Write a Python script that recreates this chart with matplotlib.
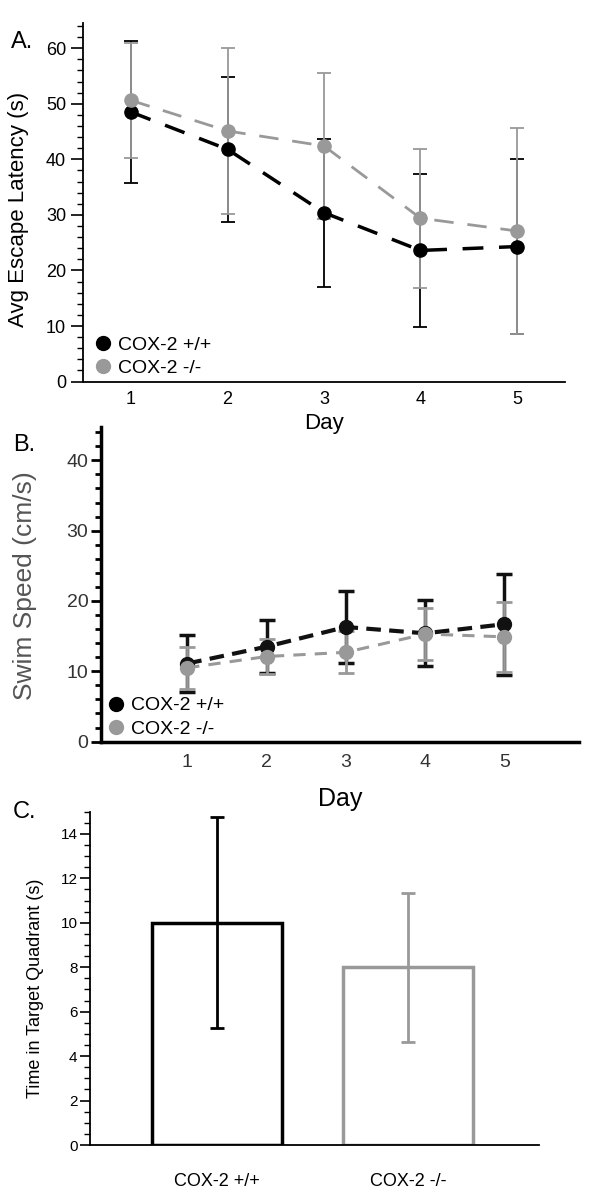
import numpy as np
import matplotlib
matplotlib.use('Agg')
import matplotlib.pyplot as plt
from matplotlib.lines import Line2D
from matplotlib.ticker import MultipleLocator

plt.rcParams['font.family'] = ['Liberation Sans', 'DejaVu Sans']

# data
days = [1, 2, 3, 4, 5]
lat_wt = [48.5, 41.8, 30.4, 23.6, 24.3]
lat_wt_err = [12.7, 13.0, 13.3, 13.8, 15.7]
lat_ko = [50.6, 45.1, 42.4, 29.4, 27.1]
lat_ko_err = [10.4, 14.9, 13.1, 12.5, 18.5]

spd_wt = [11.1, 13.5, 16.3, 15.4, 16.7]
spd_wt_err = [4.0, 3.8, 5.1, 4.7, 7.2]
spd_ko = [10.5, 12.1, 12.7, 15.3, 14.9]
spd_ko_err = [3.0, 2.5, 3.0, 3.7, 5.0]

groups = ['COX-2 +/+', 'COX-2 -/-']
quad = [10.0, 8.0]
quad_err = [4.75, 3.35]

GRAY = '#999999'

fig = plt.figure(figsize=(6, 12), dpi=100)

# (A) escape latency
axA = fig.add_axes([0.138, 0.682, 0.804, 0.2987])
axA.patch.set_visible(False)
axA.errorbar(days, lat_wt, yerr=lat_wt_err, color='black', marker='o', ms=9.5,
             lw=2.5, dashes=(6, 4.5), elinewidth=1.3, capsize=5, capthick=1.3)
axA.errorbar(days, lat_ko, yerr=lat_ko_err, color=GRAY, marker='o', ms=9.5,
             lw=2, dashes=(7, 5), elinewidth=1.3, capsize=5, capthick=1.3)
axA.set_xlim(0.5, 5.5)
axA.set_ylim(0, 64.5)
axA.yaxis.set_major_locator(MultipleLocator(10))
axA.yaxis.set_minor_locator(MultipleLocator(2))
axA.set_xticks(days)
axA.tick_params(axis='x', length=0, pad=7, labelsize=13)
axA.tick_params(axis='y', which='major', length=9, width=1.2, pad=3, labelsize=13)
axA.tick_params(axis='y', which='minor', length=4.5, width=1.0)
for s in ['top', 'right']:
    axA.spines[s].set_visible(False)
for s in ['left', 'bottom']:
    axA.spines[s].set_linewidth(1.3)
axA.set_ylabel('Avg Escape Latency (s)', fontsize=16)
axA.yaxis.set_label_coords(-0.111, 0.48)
axA.set_xlabel('Day', fontsize=16)
axA.xaxis.set_label_coords(0.5, -0.088)
hA = [Line2D([], [], marker='o', ls='none', color='black', ms=10),
      Line2D([], [], marker='o', ls='none', color=GRAY, ms=10)]
axA.legend(hA, groups, loc='lower left', bbox_to_anchor=(0.0, -0.02), frameon=False,
           fontsize=14, handlelength=0.9, handletextpad=0.3, labelspacing=0.3,
           borderaxespad=0.2)
fig.text(0.018, 0.965, 'A.', fontsize=17, va='center')

# (B) swim speed
axB = fig.add_axes([0.168, 0.382, 0.797, 0.2625])
axB.patch.set_visible(False)
axB.errorbar(days, spd_wt, yerr=spd_wt_err, color='#111111', marker='o', ms=10,
             lw=3, dashes=(3.5, 2), elinewidth=2.5, capsize=6, capthick=2.5)
axB.errorbar(days, spd_ko, yerr=spd_ko_err, color=GRAY, marker='o', ms=10,
             lw=2.2, dashes=(4, 3), elinewidth=2, capsize=6, capthick=2)
axB.set_xlim(-0.09, 5.94)
axB.set_ylim(0, 44.8)
axB.yaxis.set_major_locator(MultipleLocator(10))
axB.yaxis.set_minor_locator(MultipleLocator(2))
axB.set_xticks(days)
axB.tick_params(axis='x', length=0, pad=9, labelsize=14, labelcolor='#333333')
axB.tick_params(axis='y', which='major', length=7, width=2, pad=2, labelsize=14,
                labelcolor='#333333')
axB.tick_params(axis='y', which='minor', length=4, width=2)
for s in ['top', 'right']:
    axB.spines[s].set_visible(False)
for s in ['left', 'bottom']:
    axB.spines[s].set_linewidth(2.5)
axB.set_ylabel('Swim Speed (cm/s)', fontsize=19, color='#555555')
axB.yaxis.set_label_coords(-0.134, 0.494)
axB.set_xlabel('Day', fontsize=18)
axB.xaxis.set_label_coords(0.5, -0.144)
hB = [Line2D([], [], marker='o', ls='none', color='black', ms=10),
      Line2D([], [], marker='o', ls='none', color=GRAY, ms=10)]
axB.legend(hB, groups, loc='lower left', bbox_to_anchor=(-0.01, -0.025), frameon=False,
           fontsize=14, handlelength=0.9, handletextpad=0.3, labelspacing=0.3,
           borderaxespad=0.2)
fig.text(0.022, 0.629, 'B.', fontsize=17, va='center')

# (C) probe trial
axC = fig.add_axes([0.15, 0.0458, 0.7475, 0.2778])
axC.patch.set_visible(False)
xpos = np.arange(len(groups))
axC.bar(xpos, quad, width=0.679, color='white', edgecolor=['black', GRAY], linewidth=2.5)
axC.errorbar(xpos[0], quad[0], yerr=quad_err[0], color='black', lw=2, capsize=5,
             capthick=2, fmt='none')
axC.errorbar(xpos[1], quad[1], yerr=quad_err[1], color=GRAY, lw=2, capsize=5,
             capthick=2, fmt='none')
axC.set_xlim(-0.665, 1.684)
axC.set_ylim(0, 15)
axC.yaxis.set_major_locator(MultipleLocator(2))
axC.yaxis.set_minor_locator(MultipleLocator(0.5))
axC.set_xticks(xpos)
axC.set_xticklabels(groups)
axC.tick_params(axis='x', length=0, pad=20, labelsize=13)
axC.tick_params(axis='y', which='major', length=7, width=1.2, pad=2, labelsize=11)
axC.tick_params(axis='y', which='minor', length=4, width=1.0)
for s in ['top', 'right']:
    axC.spines[s].set_visible(False)
for s in ['left', 'bottom']:
    axC.spines[s].set_linewidth(1.3)
axC.set_ylabel('Time in Target Quadrant (s)', fontsize=13)
axC.yaxis.set_label_coords(-0.103, 0.47)
fig.text(0.022, 0.323, 'C.', fontsize=17, va='center')

fig.savefig('out.png', dpi=100)
